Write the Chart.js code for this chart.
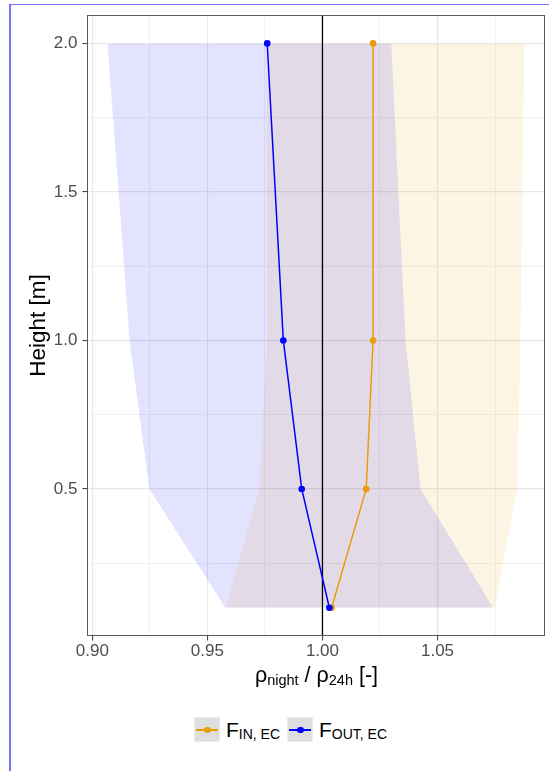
<!DOCTYPE html>
<html>
<head>
<meta charset="utf-8">
<script src="https://cdn.jsdelivr.net/npm/chart.js@4.4.1/dist/chart.umd.min.js"></script>
<style>
  body { margin: 0; width: 549px; height: 771px; position: relative; background: #fff; overflow: hidden;
         font-family: "Liberation Sans", Arial, sans-serif; color: #000; }
  #frame { position: absolute; left: 9px; top: 4px; width: 700px; height: 900px;
           border-left: 2px solid #7373ff; border-top: 1px solid #7373ff; }
  #wrap { position: absolute; left: 0; top: 0; width: 549px; height: 665px; }
  #xtitle { position: absolute; left: 87px; width: 459px; top: 665px; line-height: 21px;
            text-align: center; font-size: 21.5px; white-space: nowrap; }
  #xtitle sub { font-size: 14.5px; vertical-align: -3px; line-height: 0; }
  .item { position: absolute; top: 717px; height: 25px; display: flex; align-items: center; white-space: nowrap; }
  .key { position: relative; width: 26px; height: 25px; box-sizing: border-box; background: #dedede; border: 1px solid #ececec; }
  .key .ln { position: absolute; left: 1px; right: 1px; top: 11px; height: 1.5px; }
  .key .pt { position: absolute; left: 9px; top: 8.5px; width: 6.6px; height: 6.6px; border-radius: 50%; }
  .lab { margin-left: 6px; font-size: 21px; line-height: 25px; }
  .lab sub { font-size: 14px; vertical-align: -1.5px; line-height: 0; }
</style>
</head>
<body>
<div id="frame"></div>
<div id="wrap"><canvas id="grafico" width="549" height="665"></canvas></div>
<div id="xtitle">ρ<sub>night</sub> / ρ<sub>24h</sub> [-]</div>
<div id="legend"></div>
<script>
// alturas de medição [m]
const alturas = [0.1, 0.5, 1.0, 2.0];

// F_IN,EC
const inRatio = [1.004, 1.019, 1.022, 1.022];
const inLower = [0.958, 0.9725, 0.976, 0.9758];
const inUpper = [1.0748, 1.0846, 1.086, 1.0877];

// F_OUT,EC
const outRatio = [1.003, 0.991, 0.983, 0.976];
const outLower = [0.9578, 0.9248, 0.9162, 0.9066];
const outUpper = [1.0742, 1.0426, 1.0361, 1.0299];

const refLinha = 1.0; // linha vertical

const xMajor = [0.90, 0.95, 1.00, 1.05];
const xMinor = [0.925, 0.975, 1.025, 1.075];
const yMajor = [0.5, 1.0, 1.5, 2.0];
const yMinor = [0.25, 0.75, 1.25, 1.75];
const xLimites = [0.8977, 1.0967];
const yLimites = [0.005, 2.095];

const corIn = "#E99D0B";
const corOut = "#0000FF";

const serieLabels = [["F", "IN, EC"], ["F", "OUT, EC"]];

function pontos(valores) {
    return valores.map((v, i) => ({ x: v, y: alturas[i] }));
}

function ticksDe(major, minor) {
    return major.concat(minor).sort((a, b) => a - b).map(v => ({ value: v, major: major.includes(v) }));
}

const ehMajor = (lista, v) => lista.some(m => Math.abs(m - v) < 1e-9);

const bordaPainel = {
    id: "bordaPainel",
    afterDraw(chart) {
        const { ctx, chartArea: a } = chart;
        ctx.save();
        ctx.strokeStyle = "#595959";
        ctx.lineWidth = 1;
        ctx.strokeRect(Math.round(a.left) + 0.5, Math.round(a.top) + 0.5, Math.round(a.width) - 1, Math.round(a.height) - 1);
        ctx.restore();
    }
};

Chart.defaults.font.family = "'Liberation Sans', Arial, sans-serif";

const semLinha = { borderWidth: 0, borderColor: "transparent", pointRadius: 0, tension: 0 };

new Chart(document.getElementById("grafico").getContext("2d"), {
    type: "line",
    data: {
        datasets: [
            { label: "inLower", data: pontos(inLower), ...semLinha, fill: false, order: 7 },
            { label: "inUpper", data: pontos(inUpper), ...semLinha, fill: 0, backgroundColor: "rgba(240,160,0,0.11)", order: 6 },
            { label: "outLower", data: pontos(outLower), ...semLinha, fill: false, order: 5 },
            { label: "outUpper", data: pontos(outUpper), ...semLinha, fill: 2, backgroundColor: "rgba(0,0,255,0.11)", order: 4 },
            { label: "ref", data: [{ x: refLinha, y: yLimites[0] }, { x: refLinha, y: yLimites[1] }],
              borderColor: "#000", borderWidth: 1.3, pointRadius: 0, fill: false, order: 3 },
            { label: "F_IN,EC", data: pontos(inRatio), borderColor: corIn, backgroundColor: corIn,
              borderWidth: 1.5, pointRadius: 3.3, pointBorderWidth: 0, fill: false, tension: 0, order: 2 },
            { label: "F_OUT,EC", data: pontos(outRatio), borderColor: corOut, backgroundColor: corOut,
              borderWidth: 1.5, pointRadius: 3.3, pointBorderWidth: 0, fill: false, tension: 0, order: 1 }
        ]
    },
    options: {
        indexAxis: "y",
        responsive: false,
        animation: false,
        layout: { padding: { left: 0, right: 3, top: 15, bottom: 0 } },
        plugins: { legend: { display: false }, tooltip: { enabled: false } },
        scales: {
            x: {
                type: "linear",
                min: xLimites[0],
                max: xLimites[1],
                afterBuildTicks: axis => { axis.ticks = ticksDe(xMajor, xMinor); },
                afterFit: scale => { scale.height = 29; },
                border: { display: false },
                grid: {
                    color: c => ehMajor(xMajor, c.tick.value) ? "#e8e8e8" : "#f1f1f1",
                    lineWidth: c => ehMajor(xMajor, c.tick.value) ? 1.2 : 1,
                    tickColor: c => ehMajor(xMajor, c.tick.value) ? "#333" : "rgba(0,0,0,0)",
                    tickLength: 4.5,
                    tickWidth: 1
                },
                ticks: {
                    autoSkip: false, maxRotation: 0, padding: 1,
                    color: "#4d4d4d", font: { size: 17 },
                    callback: v => ehMajor(xMajor, v) ? v.toFixed(2) : ""
                }
            },
            y: {
                type: "linear",
                min: yLimites[0],
                max: yLimites[1],
                afterBuildTicks: axis => { axis.ticks = ticksDe(yMajor, yMinor); },
                afterFit: scale => { scale.width = 87; },
                border: { display: false },
                title: { display: true, text: "Height [m]", color: "#000", font: { size: 22.5 }, padding: { top: 25, bottom: 0 } },
                grid: {
                    color: c => ehMajor(yMajor, c.tick.value) ? "#e8e8e8" : "#f1f1f1",
                    lineWidth: c => ehMajor(yMajor, c.tick.value) ? 1.2 : 1,
                    tickColor: c => ehMajor(yMajor, c.tick.value) ? "#333" : "rgba(0,0,0,0)",
                    tickLength: 4.5,
                    tickWidth: 1
                },
                ticks: {
                    autoSkip: false, padding: 5,
                    color: "#4d4d4d", font: { size: 17 },
                    callback: v => ehMajor(yMajor, v) ? v.toFixed(1) : ""
                }
            }
        }
    },
    plugins: [bordaPainel]
});

// legenda em HTML (subscritos)
const legenda = document.getElementById("legend");
const posLegenda = [194, 287];
[corIn, corOut].forEach((cor, i) => {
    const item = document.createElement("div");
    item.className = "item";
    item.style.left = posLegenda[i] + "px";
    item.innerHTML = `<span class="key"><i class="ln" style="background:${cor}"></i><i class="pt" style="background:${cor}"></i></span>` +
        `<span class="lab">${serieLabels[i][0]}<sub>${serieLabels[i][1]}</sub></span>`;
    legenda.appendChild(item);
});
</script>
</body>
</html>
